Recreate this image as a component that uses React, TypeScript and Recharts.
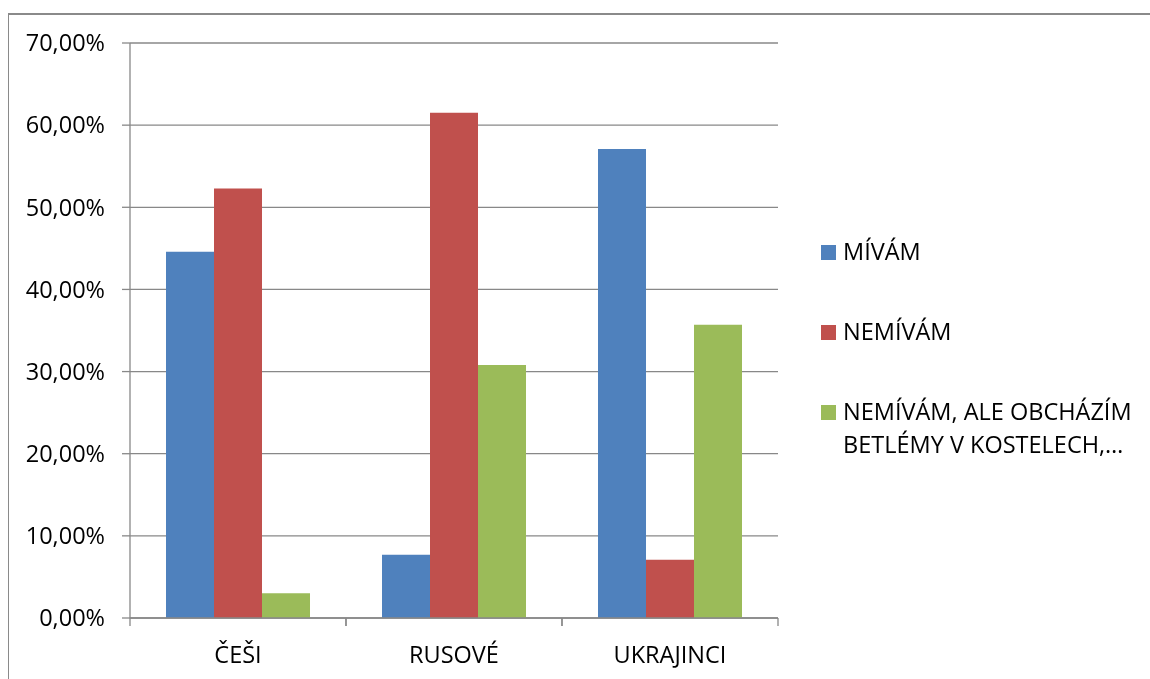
import React from 'react';
import { Bar, BarChart, CartesianGrid, XAxis, YAxis } from 'recharts';

// categories and series (percent)
const groups = ['ČEŠI', 'RUSOVÉ', 'UKRAJINCI'];
const mivam = [44.6, 7.7, 57.1];
const nemivam = [52.3, 61.5, 7.1];
const obchazim = [3.0, 30.8, 35.7];
const yTicks = [0, 10, 20, 30, 40, 50, 60, 70];

const series = [
  { key: 'mivam', label: ['MÍVÁM'], color: '#4F81BD' },
  { key: 'nemivam', label: ['NEMÍVÁM'], color: '#C0504D' },
  { key: 'obchazim', label: ['NEMÍVÁM, ALE OBCHÁZÍM', 'BETLÉMY V KOSTELECH,…'], color: '#9BBB59' },
];

const data = groups.map((name, i) => ({
  name,
  mivam: mivam[i],
  nemivam: nemivam[i],
  obchazim: obchazim[i],
}));

const FONT = '"Open Sans", sans-serif';
const FONT_SIZE = 23.5;
const GRID = '#888888';
const TICK_SIZE = 8;
const X_TICK_MARGIN = 19;

const fmtPct = (v: number) => `${v.toFixed(2).replace('.', ',')}%`;

// category label plus tick marks on the band edges
const CategoryTick = ({ x, y, payload }: any) => {
  const half = payload?.offset ?? 0;
  const axisY = y - TICK_SIZE - X_TICK_MARGIN;
  return (
    <g>
      <line x1={x - half} x2={x - half} y1={axisY} y2={axisY + TICK_SIZE} stroke={GRID} strokeWidth={1.3} />
      <line x1={x + half} x2={x + half} y1={axisY} y2={axisY + TICK_SIZE} stroke={GRID} strokeWidth={1.3} />
      <text x={x} y={y} dy="0.75em" textAnchor="middle" fill="#000" fontSize={FONT_SIZE} fontFamily={FONT}>
        {payload.value}
      </text>
    </g>
  );
};

const LegendBox = () => (
  <div style={{ position: 'absolute', left: 813, top: 227, fontFamily: FONT, fontSize: FONT_SIZE, color: '#000' }}>
    {series.map((s, i) => (
      <div key={s.key} style={{ position: 'relative', marginTop: i === 0 ? 0 : 47, lineHeight: '33px' }}>
        <span
          style={{
            position: 'absolute',
            left: 0,
            top: 10,
            width: 15,
            height: 15,
            background: s.color,
          }}
        />
        <div style={{ paddingLeft: 22, whiteSpace: 'nowrap' }}>
          {s.label.map((l) => (
            <div key={l}>{l}</div>
          ))}
        </div>
      </div>
    ))}
  </div>
);

export default function App() {
  return (
    <>
      <div
        style={{
          position: 'fixed',
          left: 8,
          top: 13,
          width: 2000,
          height: 2000,
          borderLeft: '1.5px solid #8a8a8a',
          borderTop: '2px solid #8a8a8a',
          pointerEvents: 'none',
        }}
      />
      <div style={{ position: 'relative', width: 1142, height: 663, overflow: 'hidden' }}>
        <BarChart
          width={1142}
          height={663}
          data={data}
          margin={{ top: 35, right: 372, bottom: 0, left: 0 }}
          barCategoryGap="16.67%"
          barGap={0}
        >
          <CartesianGrid vertical={false} stroke={GRID} strokeWidth={1.3} />
          <XAxis
            dataKey="name"
            height={53}
            tickLine={false}
            tickSize={TICK_SIZE}
            tickMargin={X_TICK_MARGIN}
            axisLine={{ stroke: GRID, strokeWidth: 1.3 }}
            tick={<CategoryTick />}
            interval={0}
          />
          <YAxis
            width={122}
            domain={[0, 70]}
            ticks={yTicks}
            tickFormatter={fmtPct}
            tickSize={TICK_SIZE}
            tickMargin={17}
            axisLine={{ stroke: GRID, strokeWidth: 1.3 }}
            tickLine={{ stroke: GRID, strokeWidth: 1.3 }}
            tick={{ fill: '#000', fontSize: FONT_SIZE, fontFamily: FONT }}
          />
          {series.map((s) => (
            <Bar key={s.key} dataKey={s.key} fill={s.color} isAnimationActive={false} />
          ))}
        </BarChart>
        <LegendBox />
      </div>
    </>
  );
}
